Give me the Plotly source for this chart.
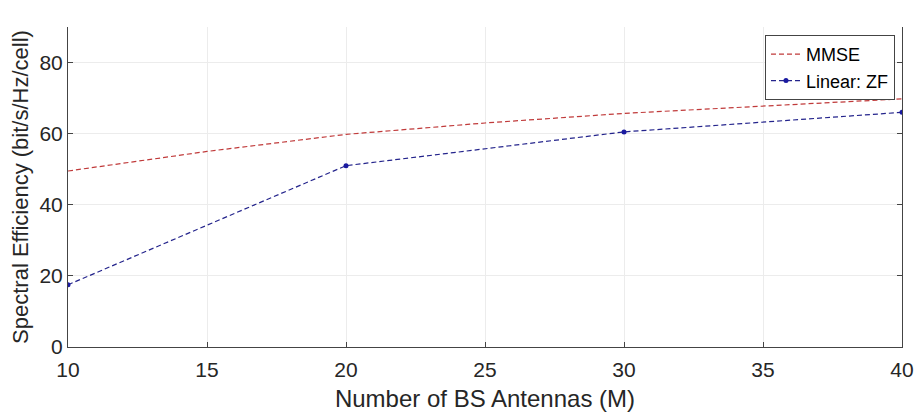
import plotly.graph_objects as go

m_mmse = [10, 15, 20, 25, 30, 35, 40]
se_mmse = [49.5, 55.0, 59.8, 63.0, 65.7, 67.8, 69.8]
m_zf = [10, 20, 30, 40]
se_zf = [17.5, 51.0, 60.5, 66.0]
x_ticks = [10, 15, 20, 25, 30, 35, 40]
y_ticks = [0, 20, 40, 60, 80]

fig = go.Figure()
fig.add_trace(go.Scatter(x=m_mmse, y=se_mmse, mode="lines", name="MMSE",
                         line=dict(color="#c03a3a", width=1.2, dash="5px,3px")))
fig.add_trace(go.Scatter(x=m_zf, y=se_zf, mode="lines+markers", name="Linear: ZF",
                         line=dict(color="#24248c", width=1.2, dash="5px,3px"),
                         marker=dict(color="#1a1aa0", size=5, symbol="circle")))

font = "Liberation Sans, Arial, sans-serif"
fig.update_layout(
    width=914, height=412,
    margin=dict(l=68, r=12, t=27, b=65),
    paper_bgcolor="white", plot_bgcolor="white",
    font=dict(family=font, size=21, color="#262626"),
    showlegend=True,
    legend=dict(x=0.9916, y=0.975, xanchor="right", yanchor="top",
                bgcolor="white", bordercolor="#444444", borderwidth=1,
                font=dict(size=18, color="#000000"), tracegroupgap=0,
                itemwidth=30),
    xaxis=dict(range=[10, 40], tickvals=x_ticks, showgrid=True, gridcolor="#ececec",
               zeroline=False, showline=True, linecolor="#444444", mirror=False,
               ticks="inside", ticklen=5, tickcolor="#444444", automargin=False,
               ticklabelstandoff=4,
               title=dict(text="Number of BS Antennas (M)", font=dict(size=24), standoff=13)),
    yaxis=dict(range=[0, 90], tickvals=y_ticks, showgrid=True, gridcolor="#ececec",
               zeroline=False, showline=True, linecolor="#444444", mirror="ticks",
               ticks="inside", ticklen=5, tickcolor="#444444", automargin=False,
               title=dict(text="Spectral Efficiency (bit/s/Hz/cell)", font=dict(size=22), standoff=4)),
)
fig.write_html("out.html", config={"displayModeBar": False},
               post_script="document.body.style.margin='0';")
